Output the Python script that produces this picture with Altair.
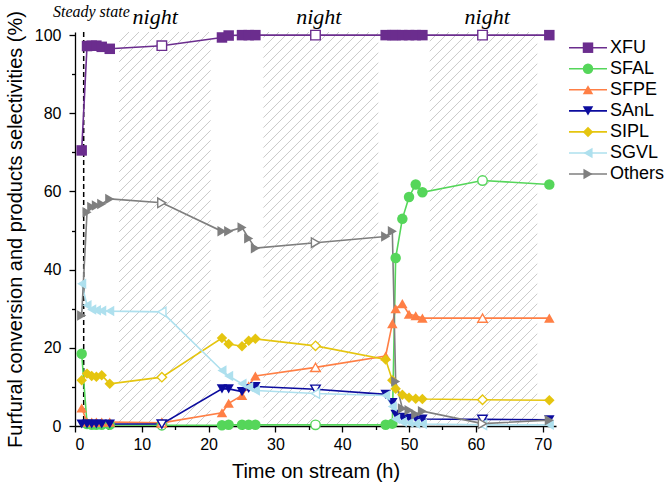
import altair as alt
import pandas as pd
import numpy as np

# ---------------- data ----------------
series = ["XFU", "SFAL", "SFPE", "SAnL", "SIPL", "SGVL", "Others"]
colors = ["#6b2d8e", "#55d65a", "#ff7f45", "#0c0c9e", "#e5c50f", "#aee0ee", "#7f7f7f"]
shapes = ["square", "circle", "triangle-up", "triangle-down", "diamond",
          "triangle-left", "triangle-right"]

time_h = [1.0, 1.8, 2.5, 3.2, 4.0, 5.2, 13, 22, 23, 25, 26, 27, 36,
          46.5, 47.5, 48, 49, 50, 51, 52, 61, 71]
open_times = [13, 36, 61]

xfu = [70.5, 97.2, 97.3, 97.3, 97.0, 96.5, 97.3, 99.4, 99.9, 100, 100, 100, 100,
       100, 100, 100, 100, 100, 100, 100, 100, 100]
sfal = [18.5, 0.5, 0.3, 0.3, 0.3, 0.3, 0.2, 0.2, 0.3, 0.3, 0.3, 0.3, 0.3,
        0.3, 0.6, 43.0, 53.0, 58.6, 61.8, 59.8, 62.8, 61.8]
sfpe = [4.6, 1.0, 1.0, 1.0, 1.0, 1.0, 0.8, 3.4, 5.8, 7.8, 10.3, 12.8, 15.0,
        17.9, 26.2, 30.0, 31.3, 28.6, 28.2, 27.6, 27.6, 27.6]
sanl = [0.5, 0.5, 0.5, 0.5, 0.5, 0.5, 0.5, 9.5, 9.5, 8.8, 9.6, 10.1, 9.4,
        8.1, 6.0, 3.0, 2.2, 2.0, 2.0, 1.8, 1.7, 1.6]
sipl = [11.7, 13.4, 12.8, 12.6, 13.0, 10.8, 12.5, 22.5, 21.0, 20.4, 21.8, 22.3, 20.5,
        17.0, 11.7, 9.5, 8.0, 7.2, 7.0, 6.9, 6.7, 6.6]
sgvl = [36.4, 30.9, 29.8, 29.6, 29.5, 29.4, 29.2, 14.2, 12.8, 10.8, 10.0, 9.1, 8.3,
        7.8, 5.0, 1.8, 1.0, 0.8, 0.6, 0.5, 0.3, 0.3]
others = [28.3, 54.7, 56.0, 56.4, 56.8, 58.1, 57.1, 49.8, 49.8, 50.8, 48.0, 45.5, 46.9,
          48.5, 49.8, 11.4, 4.5, 4.0, 3.0, 3.8, 0.6, 1.5]

night_start = [6.6, 28.2, 53.1]
night_end = [20.3, 45.4, 69.2]
night_label_x = [12.0, 36.5, 61.7]
steady_state_t = 1.3

# ---------------- frames ----------------
values = [xfu, sfal, sfpe, sanl, sipl, sgvl, others]
rows = []
for s, vals in zip(series, values):
    for t, v in zip(time_h, vals):
        rows.append({"t": t, "v": v, "series": s, "open": t in open_times})
df = pd.DataFrame(rows)

W, H = 481, 394
XMAX, YMAX = 72, 100.8
sx, sy = W / XMAX, H / YMAX

# hatch segments (decoration) for night periods
hatch_rows = []
d, k = 10.0, 1.0
for a, b in zip(night_start, night_end):
    x0, x1 = a * sx, b * sx
    Hp = YMAX * sy
    X = np.floor((x0 - Hp / k) / d) * d
    while X < x1:
        ylo = max(0.0, (x0 - X) * k)
        yhi = min(Hp, (x1 - X) * k)
        if yhi > ylo:
            hatch_rows.append({"hx": (X + ylo / k) / sx, "hy": ylo / sy,
                               "hx2": (X + yhi / k) / sx, "hy2": yhi / sy})
        X += d
hatch_df = pd.DataFrame(hatch_rows)

xscale = alt.Scale(domain=[0, XMAX], nice=False, zero=False)
yscale = alt.Scale(domain=[0, YMAX], nice=False, zero=False)
xaxis = alt.Axis(title="Time on stream (h)", values=list(range(0, 71, 5)),
                 labelExpr="datum.value % 10 == 0 ? datum.label : ''",
                 tickSize={"condition": {"test": "datum.value % 10 != 0", "value": 3.5}, "value": 6},
                 labelPadding=4, titlePadding=9, grid=False)
yaxis = alt.Axis(title="Furfural conversion and products selectivities (%)",
                 values=list(range(0, 101, 10)),
                 labelExpr="datum.value % 20 == 0 ? datum.label : ''",
                 tickSize={"condition": {"test": "datum.value % 20 != 0", "value": 3.5}, "value": 6},
                 labelPadding=8, titlePadding=9, grid=False)


def X(f):
    return alt.X(f, type="quantitative", scale=xscale, axis=xaxis)


def Y(f):
    return alt.Y(f, type="quantitative", scale=yscale, axis=yaxis)


color_scale = alt.Scale(domain=series, range=colors)
shape_scale = alt.Scale(domain=series, range=shapes)

hatch = alt.Chart(hatch_df).mark_rule(color="#cbcbcb", strokeWidth=1).encode(
    x=X("hx"), y=Y("hy"), x2="hx2", y2="hy2")

dashed = alt.Chart(pd.DataFrame({"t": [steady_state_t]})).mark_rule(
    color="black", strokeDash=[5, 3], strokeWidth=1.5).encode(x=X("t"))

lines = alt.Chart(df).mark_line(strokeWidth=1.6).encode(
    x=X("t"), y=Y("v"),
    color=alt.Color("series:N", scale=color_scale, legend=None),
    order="t:Q")

pts = alt.Chart(df[~df["open"]]).mark_point(filled=True, size=110, opacity=1).encode(
    x=X("t"), y=Y("v"),
    shape=alt.Shape("series:N", scale=shape_scale, legend=None),
    color=alt.Color("series:N", scale=color_scale, legend=None))

open_pts = alt.Chart(df[df["open"]]).mark_point(filled=True, fill="white", size=90,
                                                 strokeWidth=1.4, opacity=1).encode(
    x=X("t"), y=Y("v"),
    shape=alt.Shape("series:N", scale=shape_scale, legend=None),
    stroke=alt.Stroke("series:N", scale=color_scale, legend=None))

night_df = pd.DataFrame({"x": night_label_x, "y": [102.8] * 3, "label": ["night"] * 3})
night_text = alt.Chart(night_df).mark_text(font="Liberation Serif", fontStyle="italic",
                                           fontSize=22, baseline="alphabetic", align="center",
                                           color="black").encode(
    x=X("x"), y=Y("y"), text="label:N")

ss_df = pd.DataFrame({"x": [-3.3], "y": [104.6], "label": ["Steady state"]})
ss_text = alt.Chart(ss_df).mark_text(font="Liberation Serif", fontStyle="italic",
                                     fontSize=16, baseline="alphabetic", align="left",
                                     color="black").encode(
    x=X("x"), y=Y("y"), text="label:N")

main = alt.layer(hatch, dashed, lines, pts, open_pts, night_text, ss_text)

# ---------------- legend (own scales) ----------------
leg_df = pd.DataFrame({"series": series, "l0": 0.0, "l1": 1.0, "lm": 0.5})
lx = alt.Scale(domain=[0, 1], range=[494.0, 532.0])
ly = alt.Scale(domain=series, range=[15.7, 142.0], type="point", padding=0)

leg_rule = alt.Chart(leg_df).mark_rule(strokeWidth=1.6).encode(
    x=alt.X("l0:Q", scale=lx, axis=None), x2="l1:Q",
    y=alt.Y("series:N", scale=ly, axis=None, sort=series),
    color=alt.Color("series:N", scale=color_scale, legend=None))
leg_pts = alt.Chart(leg_df).mark_point(filled=True, size=110, opacity=1).encode(
    x=alt.X("lm:Q", scale=lx, axis=None),
    y=alt.Y("series:N", scale=ly, axis=None, sort=series),
    shape=alt.Shape("series:N", scale=shape_scale, legend=None),
    color=alt.Color("series:N", scale=color_scale, legend=None))
leg_text = alt.Chart(leg_df).mark_text(align="left", baseline="middle", dx=3,
                                       font="Liberation Sans", fontSize=18,
                                       color="black").encode(
    x=alt.X("l1:Q", scale=lx, axis=None),
    y=alt.Y("series:N", scale=ly, axis=None, sort=series),
    text="series:N")

legend = alt.layer(leg_rule, leg_pts, leg_text)

chart = alt.layer(main, legend).resolve_scale(x="independent", y="independent").properties(
    width=W, height=H,
    padding={"left": 5, "top": 4, "right": 0, "bottom": 4},
    background="white",
).configure_view(stroke=None).configure_axis(
    domainColor="black", domainWidth=1.3, tickColor="black", tickWidth=1.3,
    labelFont="Liberation Sans", labelFontSize=16, labelColor="black",
    titleFont="Liberation Sans", titleFontSize=20, titleFontWeight="normal",
    titleColor="black",
)

chart.save("out.html", embed_options={"renderer": "svg", "actions": False})
